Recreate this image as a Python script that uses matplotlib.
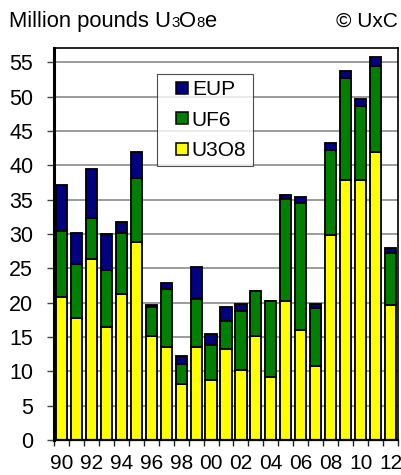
import matplotlib
matplotlib.use("Agg")
import matplotlib.pyplot as plt
from matplotlib.lines import Line2D
import numpy as np

plt.rcParams['font.family'] = ['Liberation Sans', 'DejaVu Sans']

years = ["90", "91", "92", "93", "94", "95", "96", "97", "98", "99", "00", "01",
         "02", "03", "04", "05", "06", "07", "08", "09", "10", "11", "12"]
u3o8 = [20.9, 17.8, 26.3, 16.4, 21.3, 28.9, 15.1, 13.6, 8.1, 13.5, 8.8, 13.2,
        10.2, 15.1, 9.2, 20.2, 16.0, 10.8, 29.8, 37.9, 37.9, 41.9, 19.7]
uf6 = [9.5, 7.8, 6.1, 8.3, 8.8, 9.2, 4.3, 8.4, 2.9, 7.0, 5.0, 4.1,
       8.6, 6.6, 11.1, 14.9, 18.5, 8.4, 12.4, 14.9, 10.8, 12.6, 7.5]
eup = [6.7, 4.6, 7.1, 5.3, 1.7, 3.9, 0.3, 0.8, 1.2, 4.7, 1.6, 2.1,
       1.0, 0.0, 0.0, 0.6, 0.9, 0.6, 1.0, 1.0, 0.9, 1.3, 0.7]
series_names = ["U3O8", "UF6", "EUP"]
colors = ["#FFFF00", "#008000", "#000080"]
yticks = list(range(0, 56, 5))

W, H = 401, 475
fig = plt.figure(figsize=(W / 100, H / 100), dpi=100)
L, R, T, B = 54, 398, 48, 440
ax = fig.add_axes([L / W, 1 - B / H, (R - L) / W, (B - T) / H])

x = np.arange(len(years))
bw = 0.745
lw = 1.33
ax.bar(x, u3o8, bw, color=colors[0], edgecolor="black", linewidth=lw, label=series_names[0])
bottom2 = np.array(u3o8)
ax.bar(x, uf6, bw, bottom=bottom2, color=colors[1], edgecolor="black", linewidth=lw, label=series_names[1])
bottom3 = bottom2 + np.array(uf6)
ax.bar(x, eup, bw, bottom=bottom3, color=colors[2], edgecolor="black", linewidth=lw, label=series_names[2])

ax.set_xlim(-0.5, len(years) - 0.5)
ax.set_ylim(0, 57.1)
ax.set_yticks(yticks)
ax.set_yticklabels([str(v) for v in yticks])
ax.yaxis.grid(True, color="#808080", linewidth=1.1)
ax.set_axisbelow(True)

ax.set_xticks(x[::2])
ax.set_xticklabels(years[::2])
ax.set_xticks(np.arange(-0.5, len(years), 1.0), minor=True)
ax.tick_params(axis="x", which="major", length=0, pad=10, labelsize=15)
ax.tick_params(axis="x", which="minor", length=4.5, width=1.0, color="#202020")
ax.tick_params(axis="y", which="major", length=5, width=1.0, color="#404040", pad=10, labelsize=15.5)

for s, w in [("left", 2.2), ("bottom", 1.6), ("top", 1.2), ("right", 1.2)]:
    ax.spines[s].set_linewidth(w)
    ax.spines[s].set_color("black")

handles = [Line2D([0], [0], marker="s", linestyle="none", markersize=8.5,
                  markerfacecolor=colors[i], markeredgecolor="black", markeredgewidth=1.1)
           for i in (2, 1, 0)]
leg = ax.legend(handles, [series_names[i] for i in (2, 1, 0)],
                loc="upper left", bbox_to_anchor=((157 - L) / (R - L), (B - 74) / (B - T)),
                borderaxespad=0, fontsize=15, frameon=True, fancybox=False,
                borderpad=0.3, labelspacing=0.55, handlelength=1.77, handletextpad=-0.4)
leg.get_frame().set_edgecolor("#202020")
leg.get_frame().set_linewidth(0.8)

# Title with small digits
fig.canvas.draw()
renderer = fig.canvas.get_renderer()
parts = [("Million pounds U", 15.8), ("3", 10.8), ("O", 15.8), ("8", 10.8), ("e", 15.8)]
xpos = 9
ybase = 1 - 26.7 / H
for txt, fs in parts:
    t = fig.text(xpos / W, ybase, txt, fontsize=fs, va="baseline", ha="left")
    bb = t.get_window_extent(renderer)
    xpos = bb.x1
fig.text(398 / W, ybase, "\u00a9 UxC", fontsize=15, va="baseline", ha="right")

fig.savefig("out.png", dpi=100)
